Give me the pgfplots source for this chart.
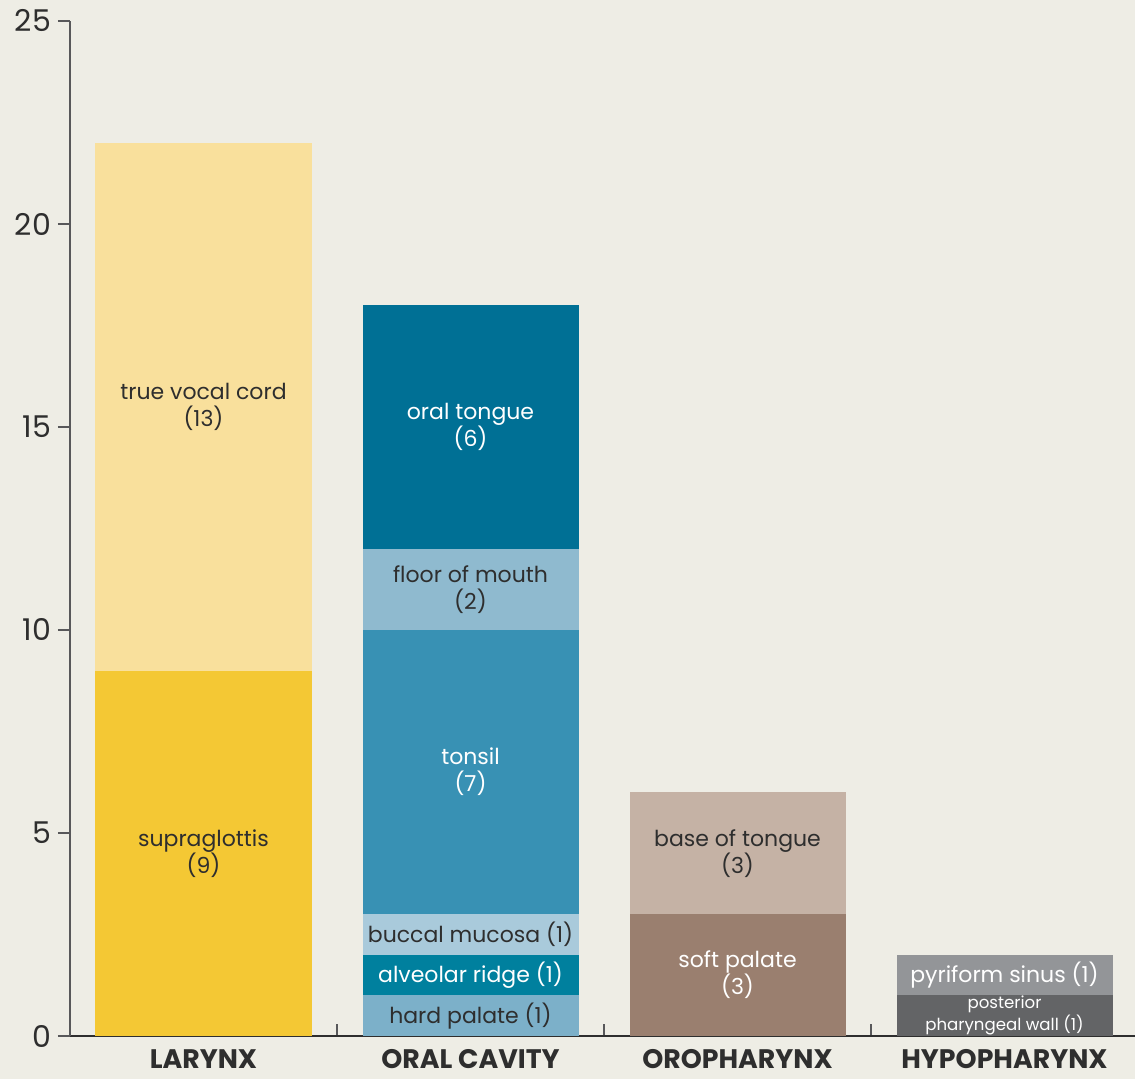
\documentclass[border=0pt]{standalone}
\usepackage{fontspec}
\setmainfont{Poppins}
\usepackage{pgfplots}
\pgfplotsset{compat=1.18}
\definecolor{bg}{HTML}{EEEDE5}
\definecolor{supra}{HTML}{F4C834}
\definecolor{tvc}{HTML}{F9E09C}
\definecolor{hardp}{HTML}{7CB0C9}
\definecolor{alv}{HTML}{00809E}
\definecolor{bucc}{HTML}{A9CADB}
\definecolor{tons}{HTML}{3891B4}
\definecolor{floorm}{HTML}{8FBACF}
\definecolor{oralt}{HTML}{007095}
\definecolor{softp}{HTML}{9A7F6F}
\definecolor{baset}{HTML}{C5B2A5}
\definecolor{post}{HTML}{636466}
\definecolor{pyri}{HTML}{939598}
\definecolor{txt}{HTML}{2E2E2E}
\definecolor{axc}{HTML}{58585A}
\tikzset{
  lab/.style={font=\fontsize{11}{13.5}\selectfont, align=center, text=txt},
  labw/.style={lab, text=white},
  cat/.style={font=\fontsize{13.4}{13.4}\selectfont\bfseries, text=txt, anchor=base, inner sep=0pt, yshift=-16.3pt},
}
\begin{document}
\begin{tikzpicture}
\fill[bg] (-35pt,-21.5pt) rectangle (532.5pt,518pt);
\useasboundingbox (-35pt,-21.5pt) rectangle (532.5pt,518pt);
\begin{axis}[
  at={(0pt,0pt)}, anchor=south west,
  scale only axis, width=532.5pt, height=507.5pt,
  xmin=-0.5, xmax=3.4888, ymin=0, ymax=25,
  ybar stacked, bar width=108pt,
  axis lines*=left,
  x axis line style={draw=txt, line width=1pt},
  y axis line style={draw=axc, line width=1pt},
  tick align=outside,
  major tick length=6pt,
  ytick={0,5,10,15,20,25},
  xtick={0.5,1.5,2.5}, xticklabels={},
  xtick style={draw=axc, line width=0.7pt, yshift=6pt},
  ytick style={draw=axc, line width=0.8pt},
  yticklabel style={font=\fontsize{15}{15}\selectfont, text=txt},
  /pgf/number format/assume math mode=true,
  clip=false,
  every axis plot/.append style={draw=none},
]
\addplot[fill=supra] coordinates {(0,9) (1,0) (2,0) (3,0)};
\addplot[fill=hardp] coordinates {(0,0) (1,1) (2,0) (3,0)};
\addplot[fill=softp] coordinates {(0,0) (1,0) (2,3) (3,0)};
\addplot[fill=post] coordinates {(0,0) (1,0) (2,0) (3,1)};
\addplot[fill=tvc] coordinates {(0,13) (1,0) (2,0) (3,0)};
\addplot[fill=alv] coordinates {(0,0) (1,1) (2,0) (3,0)};
\addplot[fill=baset] coordinates {(0,0) (1,0) (2,3) (3,0)};
\addplot[fill=pyri] coordinates {(0,0) (1,0) (2,0) (3,1)};
\addplot[fill=bucc] coordinates {(0,0) (1,1) (2,0) (3,0)};
\addplot[fill=tons] coordinates {(0,0) (1,7) (2,0) (3,0)};
\addplot[fill=floorm] coordinates {(0,0) (1,2) (2,0) (3,0)};
\addplot[fill=oralt] coordinates {(0,0) (1,6) (2,0) (3,0)};

\coordinate (tvc) at (axis cs:0,15.5);
\coordinate (sup) at (axis cs:0,4.5);
\coordinate (ot) at (axis cs:1,15);
\coordinate (fm) at (axis cs:1,11);
\coordinate (ton) at (axis cs:1,6.5);
\coordinate (bm) at (axis cs:1,2.5);
\coordinate (ar) at (axis cs:1,1.5);
\coordinate (hp) at (axis cs:1,0.5);
\coordinate (bt) at (axis cs:2,4.5);
\coordinate (sp) at (axis cs:2,1.5);
\coordinate (ps) at (axis cs:3,1.5);
\coordinate (pw) at (axis cs:3,0.5);
\coordinate (c0) at (axis cs:0,0);
\coordinate (c1) at (axis cs:1,0);
\coordinate (c2) at (axis cs:2,0);
\coordinate (c3) at (axis cs:3,0);
\end{axis}
\node[lab] at (tvc) {true vocal cord\\(13)};
\node[lab] at (sup) {supraglottis\\(9)};
\node[labw] at (ot) {oral tongue\\(6)};
\node[lab] at (fm) {floor of mouth\\(2)};
\node[labw] at (ton) {tonsil\\(7)};
\node[lab] at (bm) {buccal mucosa (1)};
\node[labw] at (ar) {alveolar ridge (1)};
\node[lab] at (hp) {hard palate (1)};
\node[lab] at (bt) {base of tongue\\(3)};
\node[labw] at (sp) {soft palate\\(3)};
\node[labw] at (ps) {pyriform sinus (1)};
\node[labw, font=\fontsize{8.3}{8.1}\selectfont] at (pw) {posterior\\pharyngeal wall (1)};
\node[cat] at (c0) {LARYNX};
\node[cat] at (c1) {ORAL CAVITY};
\node[cat] at (c2) {OROPHARYNX};
\node[cat] at (c3) {HYPOPHARYNX};
\end{tikzpicture}
\end{document}
